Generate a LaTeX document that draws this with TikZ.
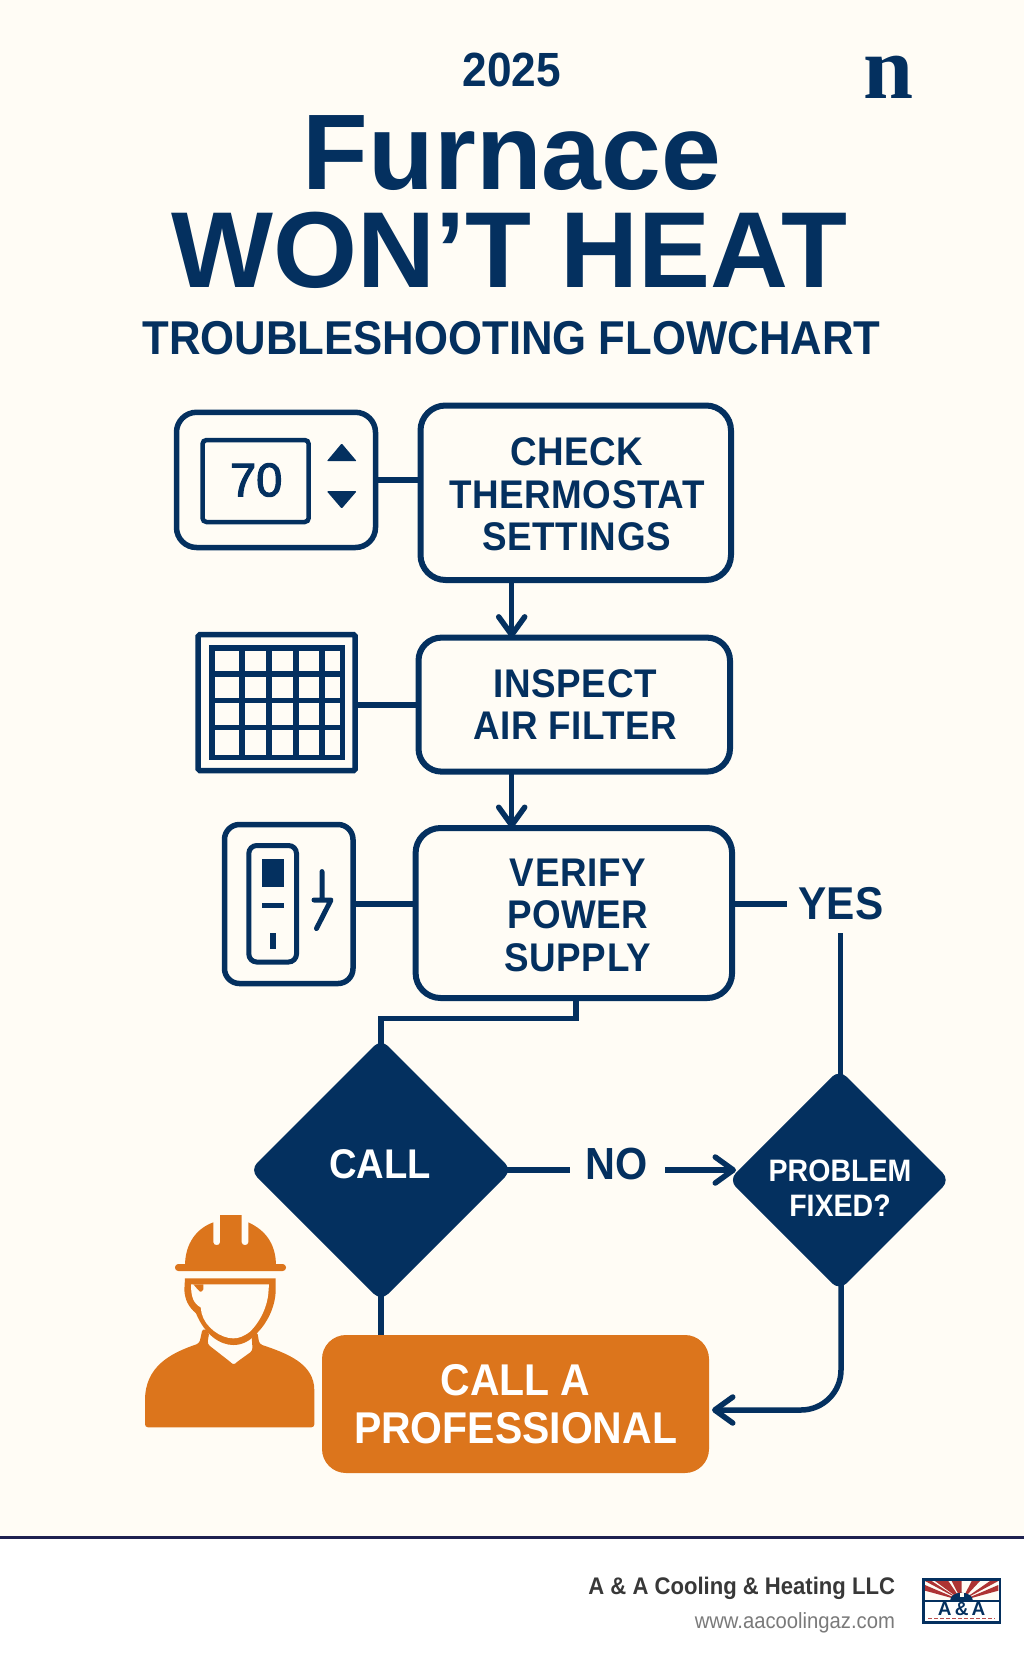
\documentclass[tikz,border=0pt]{standalone}
\usepackage{fontspec}
\setmainfont{Liberation Sans}
\newfontfamily\lb[FakeStretch=0.92]{Liberation Sans Bold}
\newfontfamily\lbs[FakeStretch=0.92,LetterSpace=1.5]{Liberation Sans Bold}
\newfontfamily\lbf{Liberation Sans Bold}
\newfontfamily\lr[FakeStretch=0.92]{Liberation Sans}
\newfontfamily\med[FakeBold=2.5]{Liberation Sans}
\newfontfamily\srf{Liberation Serif Bold}
\usetikzlibrary{arrows.meta,shapes.geometric,backgrounds}
\definecolor{navy}{HTML}{04305F}
\definecolor{paper}{HTML}{FFFCF5}
\definecolor{orng}{HTML}{DC751C}
\definecolor{rule}{HTML}{1F2150}
\newcommand{\fs}[1]{\fontsize{#1}{#1}\selectfont}
\tikzset{
  every node/.style={inner sep=0pt,outer sep=0pt},
  txt/.style={text=navy,anchor=base},
  stepbox/.style={draw=navy,line width=6pt,rounded corners=25pt,fill=paper,text=navy,align=center,font=\lbs\fontsize{40}{42.7}\selectfont},
  iconbox/.style={draw=navy,line width=5.5pt,fill=paper},
  conn/.style={draw=navy,line width=5.5pt},
  arr/.style={conn,-{Straight Barb[length=18pt,width=26pt,round]}},
  dia/.style={diamond,fill=navy,aspect=1,rounded corners=10pt},
}
\begin{document}
\begin{tikzpicture}[x=1pt,y=-1pt]
\useasboundingbox (0,0) rectangle (1024,1666);
% nodes
\node[txt,font=\lb\fs{48}] (yr) at (512,86) {2025};
\node[anchor=base,text=navy,font=\srf\fs{90}] (logo) at (889,98) {n};
\node[txt,font=\lbf\fs{107.5}] (t1) at (512,189) {Furnace};
\node[txt,font=\lbf\fs{108}] (t2) at (509,287) {WON’T HEAT};
\node[txt,font=\lb\fontsize{47.5}{48}\selectfont] (t3) at (511.5,354) {TROUBLESHOOTING FLOWCHART};

\node[stepbox,minimum width=310.5pt,minimum height=174.5pt] (box1) at (575.75,492.75) {\rule{0pt}{31pt}\hspace*{2pt}CHECK\\\hspace*{2pt}THERMOSTAT\\\hspace*{2pt}SETTINGS};
\node[stepbox,minimum width=311.5pt,minimum height=134pt,rounded corners=23pt] (box2) at (574.25,704.6) {\hspace*{2pt}INSPECT\\\hspace*{2pt}AIR FILTER};
\node[stepbox,minimum width=316.5pt,minimum height=170pt] (box3) at (573.85,913) {\rule{0pt}{32pt}\hspace*{8pt}VERIFY\\\hspace*{8pt}POWER\\\hspace*{8pt}SUPPLY};

\node[iconbox,rectangle,rounded corners=20pt,minimum width=199pt,minimum height=135.2pt] (therm) at (276,479.9) {};
\node[iconbox,rectangle,rounded corners=1.5pt,minimum width=157pt,minimum height=135.8pt] (filt) at (276.7,702.6) {};
\node[iconbox,rectangle,rounded corners=15pt,minimum width=128.5pt,minimum height=159pt] (powr) at (288.75,904) {};

\node[dia,minimum width=262pt,minimum height=262pt] (call) at (381,1170) {};
\node[dia,minimum width=221pt,minimum height=221pt] (prob) at (839.3,1180) {};
\node[text=white,font=\lb\fs{41.5},anchor=base] (callt) at (380,1178) {CALL};
\node[text=white,font=\lb\fontsize{31}{35}\selectfont,align=center] (probt) at (840,1188) {PROBLEM\\FIXED?};

\node[txt,font=\lb\fs{45}] (no) at (617,1179) {NO};
\node[txt,font=\lb\fs{46}] (yes) at (841,919) {YES};

\node[fill=orng,rounded corners=24pt,minimum width=387pt,minimum height=138pt,text=white,align=center,font=\lb\fontsize{44.5}{47.6}\selectfont] (pro) at (515.5,1404) {CALL A\\PROFESSIONAL};

\coordinate (a12) at (511.7,0);
\coordinate (vx) at (576,1018.7);
\coordinate (yesb) at (840.7,933);
\coordinate (noL) at (570,1170);
\coordinate (noR) at (665,1170);
\coordinate (noT) at (736,1170);
\coordinate (yesL) at (787,904);
\coordinate (pfix) at (841,1410);
\coordinate (ptip) at (712,1410);

% connectors
\begin{pgfonlayer}{background}
\fill[paper] (0,0) rectangle (1024,1537);
\fill[white] (0,1537) rectangle (1024,1666);
\fill[rule] (0,1535.5) rectangle (1024,1539);
\draw[conn] (therm.east) -- (therm.east -| box1.west);
\draw[conn] ([yshift=-2.4pt]filt.east) -- ([yshift=-2.4pt]filt.east -| box2.west);
\draw[conn] (powr.east) -- (powr.east -| box3.west);
\draw[conn] (yesL -| box3.east) -- (yesL);
\draw[conn,line cap=butt] (vx |- box3.south) -- (vx) -- (vx -| call.center) -- (call.center);
\draw[line width=6pt,navy] (call.center) -- (call.center |- pro.north);
\draw[conn] (call.center) -- (noL);
\draw[conn] (yesb) -- (yesb |- prob.center);
\end{pgfonlayer}
\draw[arr] (a12 |- box1.south) -- (a12 |- box2.north);
\draw[arr] (a12 |- box2.south) -- (a12 |- box3.north);
\draw[arr] (noR) -- (noT);
\draw[arr,rounded corners=40pt] ([yshift=6pt]prob.south -| pfix) -- (pfix) -- (ptip);

% thermostat icon
\draw[navy,line width=4.5pt,rounded corners=4pt] (202.5,440) rectangle (308.7,522);
\node[text=navy,font=\med\fs{47}] (temp) at (256.2,480) {70};
\fill[navy,rounded corners=1pt] (326.8,461.2) -- (341.7,443.4) -- (356.7,461.2) -- cycle;
\fill[navy,rounded corners=1pt] (326.8,491.2) -- (341.7,508.6) -- (356.7,491.2) -- cycle;

% filter icon
\draw[navy,line width=5.5pt] (211.8,648) rectangle (342.5,757.7);
\foreach \gx in {241.8,269,295.8,321.8} \draw[navy,line width=5.5pt] (\gx,648) -- (\gx,757.7);
\foreach \gy in {673.9,700.4,727.3} \draw[navy,line width=5.5pt] (211.8,\gy) -- (342.5,\gy);

% power icon
\draw[navy,line width=5pt,rounded corners=8pt] (248.8,845.5) rectangle (296.5,962);
\fill[navy] (262,859.4) rectangle (283.6,887.4);
\fill[navy] (262,902.5) rectangle (283.6,908);
\fill[navy] (269.8,932.5) rectangle (276,948.7);
\draw[navy,line width=5pt,line cap=round,line join=round] (322,871.6) -- (322,900) (314,900) -- (331,900) -- (316.5,928.5);

% worker
\begin{scope}[shift={(130,1190)},x=0.33333pt,y=-0.33333pt]
\fill[orng,rounded corners=3.3pt] (135,222) rectangle (468,243);
\fill[orng] (165,228) .. controls (165,160) and (200,115) .. (250,97) -- (250,157) .. controls (250,168) and (270,168) .. (270,157) -- (270,75) -- (335,75) -- (335,157) .. controls (335,168) and (355,168) .. (355,157) -- (355,97) .. controls (405,120) and (438,160) .. (438,228) -- cycle;
\fill[orng,rounded corners=3pt] (45,640) .. controls (45,530) and (120,490) .. (208,460) -- (218,415) -- (238,425) -- (232,462) -- (300,515) .. controls (308,522) and (314,522) .. (322,515) -- (368,482) -- (365,440) -- (382,425) -- (388,462) .. controls (470,490) and (553,520) .. (553,610) -- (553,712) -- (45,712) -- cycle;
\fill[orng] (165,265) -- (437,265) -- (437,300) .. controls (437,350) and (410,400) .. (385,425) .. controls (360,455) and (335,465) .. (310,465) .. controls (270,465) and (225,435) .. (198,370) .. controls (175,350) and (165,330) .. (163,300) -- cycle;
\fill[paper] (183,283) -- (417,283) -- (415,310) .. controls (410,360) and (385,400) .. (360,425) .. controls (340,440) and (325,445) .. (310,445) .. controls (270,445) and (225,410) .. (215,370) -- (212,352) .. controls (190,340) and (183,320) .. (183,283) -- cycle;
\fill[orng] (190,283) -- (220,283) -- (220,298) .. controls (215,310) and (205,305) .. (203,298) -- cycle;
\end{scope}

% footer
\node[anchor=base east,text=black!78,font=\lb\fontsize{24}{26}\selectfont] (co) at (895,1594) {A \& A Cooling \& Heating LLC};
\node[anchor=base east,text=black!52,font=\lr\fs{22}] (web) at (895,1628) {www.aacoolingaz.com};

% company badge
\begin{scope}[shift={(915,1570)},x=0.33333pt,y=-0.33333pt]
\fill[white] (22,25) rectangle (258,160);
\begin{scope}
\clip (30,33) rectangle (250,90);
\fill[paper] (30,33) rectangle (250,90);
\foreach \a/\b in {30/50,60/100,110/140,170/195,225/250}
  \fill[red!60!black!80] (140,92) -- (\a,33) -- (\b,33) -- cycle;
\fill[red!60!black!80] (140,92) -- (30,45) -- (30,62) -- cycle;
\fill[red!60!black!80] (140,92) -- (250,45) -- (250,62) -- cycle;
\fill[navy] (105,92) .. controls (105,60) and (175,60) .. (175,92) -- cycle;
\fill[paper] (134,70) rectangle (146,82);
\end{scope}
\draw[navy,line width=2.4pt] (25,28) rectangle (255,157);
\fill[navy] (25,90) rectangle (255,96);
\node[text=navy,font=\lbf\fs{19}] (aa) at (140,117) {A\,\&\,A};
\draw[red!60!black!70,line width=1pt,dash pattern=on 4pt off 2pt] (40,144) -- (240,144);
\end{scope}
\end{tikzpicture}
\end{document}
